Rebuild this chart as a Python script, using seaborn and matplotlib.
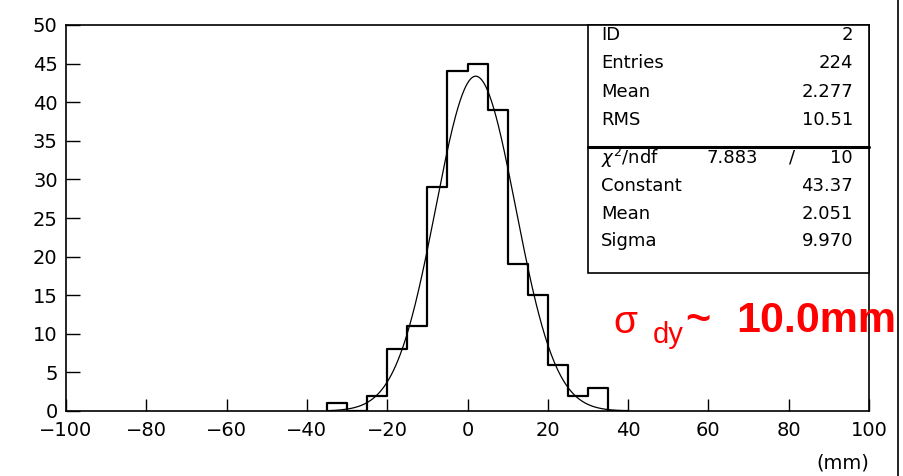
import numpy as np
import pandas as pd
import matplotlib
matplotlib.use("Agg")
import matplotlib.pyplot as plt
from matplotlib.patches import Rectangle
from matplotlib.lines import Line2D
from matplotlib.ticker import MultipleLocator
import seaborn as sns

# ---- data ----
bin_edges = [-35, -30, -25, -20, -15, -10, -5, 0, 5, 10, 15, 20, 25, 30, 35, 40]
counts = [1, 0, 2, 8, 11, 29, 44, 45, 39, 19, 15, 6, 2, 3, 0]
fit_constant = 43.37
fit_mean = 2.051
fit_sigma = 9.970
stats_labels = ["ID", "Entries", "Mean", "RMS"]
stats_values = ["2", "224", "2.277", "10.51"]
fit_labels = ["Constant", "Mean", "Sigma"]
fit_values = ["43.37", "2.051", "9.970"]
chi2_value = "7.883"
ndf_value = "10"
x_ticks = [-100, -80, -60, -40, -20, 0, 20, 40, 60, 80, 100]
y_ticks = [0, 5, 10, 15, 20, 25, 30, 35, 40, 45, 50]
x_unit = "(mm)"

sns.set_style("white")
plt.rcParams["font.family"] = ["DejaVu Sans"]
plt.rcParams["text.color"] = "black"

W, H = 904, 476
fig = plt.figure(figsize=(W / 100, H / 100), dpi=100)

def px(x, y):
    return (x / W, 1 - y / H)

ax_l, ax_r, ax_t, ax_b = 66, 869, 25, 411
ax = fig.add_axes([ax_l / W, 1 - ax_b / H, (ax_r - ax_l) / W, (ax_b - ax_t) / H])

centers = [(bin_edges[i] + bin_edges[i + 1]) / 2 for i in range(len(counts))]
df = pd.DataFrame({"x": centers, "w": counts})
sns.histplot(data=df, x="x", weights="w", bins=bin_edges, element="step",
             fill=False, color="black", linewidth=1.6, ax=ax)
# closing vertical edges at both ends of the histogram
ax.vlines([bin_edges[0], bin_edges[-1]], 0, [counts[0], counts[-1]],
          color="black", linewidth=1.6)

xs = np.linspace(bin_edges[0], bin_edges[-1], 400)
ys = fit_constant * np.exp(-0.5 * ((xs - fit_mean) / fit_sigma) ** 2)
sns.lineplot(x=xs, y=ys, color="black", linewidth=0.9, ax=ax)

ax.set_xlim(-100, 100)
ax.set_ylim(0, 50)
ax.set_xlabel("")
ax.set_ylabel("")
ax.xaxis.set_major_locator(MultipleLocator(20))
ax.xaxis.set_minor_locator(MultipleLocator(5))
ax.yaxis.set_major_locator(MultipleLocator(5))
ax.yaxis.set_minor_locator(MultipleLocator(1))
ax.set_xticks(x_ticks)
ax.set_yticks(y_ticks)
ax.set_xticklabels([str(t).replace("-", "\u2212") for t in x_ticks])
ax.set_yticklabels([str(t) for t in y_ticks])
ax.tick_params(axis="x", which="major", direction="in", length=8.5, width=1.0,
               labelsize=14, pad=7, colors="black", top=False)
ax.tick_params(axis="x", which="minor", direction="in", length=5.5, width=1.0,
               top=False)
ax.tick_params(axis="y", which="major", direction="in", length=10, width=1.0,
               labelsize=14, pad=6, colors="black", right=False)
ax.tick_params(axis="y", which="minor", direction="in", length=5, width=1.0,
               right=False)
ax.tick_params(bottom=True, left=True)
for s in ax.spines.values():
    s.set_color("black")
    s.set_linewidth(1.2)

fig.text(*px(869, 463), x_unit, ha="right", va="center", fontsize=14, color="black")

# ---- stats box ----
bx_l, bx_r, bx_t, bx_b = 588, 869, 25, 273
sep_y = 147
fig.patches.append(Rectangle(px(bx_l, bx_b), (bx_r - bx_l) / W, (bx_b - bx_t) / H,
                             transform=fig.transFigure, facecolor="white",
                             edgecolor="black", linewidth=1.2, zorder=5))
fig.lines.append(Line2D([bx_l / W, bx_r / W], [1 - sep_y / H] * 2,
                        transform=fig.transFigure, color="black", linewidth=2.2, zorder=6))

tx_l, tx_r = 601, 853
rows1 = [35, 63, 92, 120]
for lab, val, yy in zip(stats_labels, stats_values, rows1):
    fig.text(*px(tx_l, yy), lab, ha="left", va="center", fontsize=13, zorder=7, color="black")
    fig.text(*px(tx_r, yy), val, ha="right", va="center", fontsize=13, zorder=7, color="black")
fig.text(*px(tx_l, 158), r"$\chi^2$/ndf", ha="left", va="center", fontsize=13, zorder=7, color="black")
fig.text(*px(758, 158), chi2_value, ha="right", va="center", fontsize=13, zorder=7, color="black")
fig.text(*px(792, 158), "/", ha="center", va="center", fontsize=13, zorder=7, color="black")
fig.text(*px(tx_r, 158), ndf_value, ha="right", va="center", fontsize=13, zorder=7, color="black")
rows2 = [186, 214, 241]
for lab, val, yy in zip(fit_labels, fit_values, rows2):
    fig.text(*px(tx_l, yy), lab, ha="left", va="center", fontsize=13, zorder=7, color="black")
    fig.text(*px(tx_r, yy), val, ha="right", va="center", fontsize=13, zorder=7, color="black")

# ---- red annotation ----
red = "#ff0000"
fig.text(*px(613, 333), "\u03c3", ha="left", va="baseline", fontsize=28,
         color=red, family=["Liberation Sans"], zorder=8)
fig.text(*px(653, 343), "dy", ha="left", va="baseline", fontsize=21,
         color=red, family=["Liberation Sans"], zorder=8)
fig.text(*px(685, 332), "~", ha="left", va="baseline", fontsize=31,
         color=red, family=["Liberation Sans"], fontweight="bold", zorder=8)
fig.text(*px(896, 332), "10.0mm", ha="right", va="baseline", fontsize=31,
         color=red, family=["Liberation Sans"], fontweight="bold", zorder=8)

# right frame line of the page
fig.lines.append(Line2D([898.5 / W] * 2, [0, 1], transform=fig.transFigure,
                        color="black", linewidth=1.2))

fig.savefig("out.png", dpi=100)
